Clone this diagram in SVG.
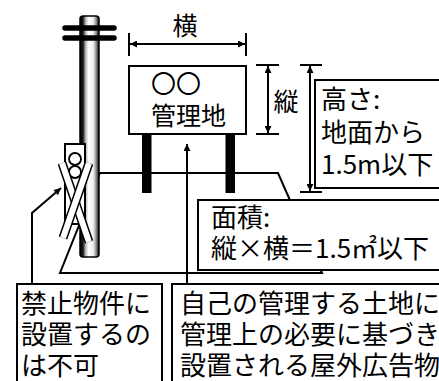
<svg xmlns="http://www.w3.org/2000/svg" width="439" height="381" viewBox="0 0 439 381">
  <style>
    .ln { fill: none; stroke: #000; stroke-width: 2; }
    .box { fill: #fff; stroke: #000; stroke-width: 2; }
    .txt { font-family: "Noto Sans CJK JP", "Noto Sans CJK SC", sans-serif; font-size: 26px; fill: #000; }
    .lbl { font-family: "Noto Sans CJK JP", "Noto Sans CJK SC", sans-serif; font-size: 25px; fill: #000; }
  </style>
  <defs>
    <linearGradient id="poleGrad" x1="0" y1="0" x2="1" y2="0">
      <stop offset="0" stop-color="#000"/>
      <stop offset="0.16" stop-color="#1a1a1a"/>
      <stop offset="0.3" stop-color="#bbb"/>
      <stop offset="0.45" stop-color="#fff"/>
      <stop offset="0.7" stop-color="#eee"/>
      <stop offset="0.86" stop-color="#888"/>
      <stop offset="1" stop-color="#000"/>
    </linearGradient>
    <marker id="arr" viewBox="0 0 10 10" refX="10" refY="5" markerWidth="9" markerHeight="7" markerUnits="userSpaceOnUse" orient="auto-start-reverse">
      <path d="M0,0 L10,5 L0,10 z" fill="#000"/>
    </marker>
  </defs>

  <rect width="439" height="381" fill="#fff"/>

  <!-- ground plot (parallelogram) -->
  <g id="ground">
    <path class="ln" d="M100,173 L278,173 L322,273 L60,273 Z"/>
  </g>

  <!-- utility pole with crossbars -->
  <g id="pole">
    <rect x="80" y="16" width="19" height="241" rx="3" fill="url(#poleGrad)" stroke="#000" stroke-width="1.5"/>
    <line x1="65" y1="28" x2="114" y2="28" stroke="#000" stroke-width="5.5" stroke-linecap="round"/>
    <line x1="65" y1="38" x2="114" y2="38" stroke="#000" stroke-width="5.5" stroke-linecap="round"/>
  </g>

  <!-- traffic signal crossed out -->
  <g id="signal">
    <rect x="65" y="144" width="20" height="80" fill="#fff" stroke="#000" stroke-width="2"/>
    <circle cx="75" cy="159" r="6" fill="#fff" stroke="#000" stroke-width="1.8"/>
    <circle cx="75" cy="172" r="6" fill="#fff" stroke="#000" stroke-width="1.8"/>
    <line x1="62" y1="163" x2="89" y2="242" stroke="#000" stroke-width="9"/>
    <line x1="62" y1="163" x2="89" y2="242" stroke="#fff" stroke-width="6"/>
    <line x1="89" y1="163" x2="63" y2="238" stroke="#000" stroke-width="9"/>
    <line x1="89" y1="163" x2="63" y2="238" stroke="#fff" stroke-width="6"/>
  </g>

  <!-- signboard on two legs -->
  <g id="signboard">
    <rect x="142" y="133" width="9.5" height="60" fill="#000"/>
    <rect x="225.5" y="133" width="9.5" height="60" fill="#000"/>
    <rect class="box" x="129" y="66" width="117" height="68"/>
    <text class="lbl" x="151" y="93">〇〇</text>
    <text class="lbl" x="151" y="125">管理地</text>
  </g>

  <!-- width dimension -->
  <g id="dim-width">
    <line class="ln" x1="129" y1="33" x2="129" y2="56"/>
    <line class="ln" x1="246" y1="33" x2="246" y2="56"/>
    <line class="ln" x1="130" y1="44" x2="245" y2="44" marker-start="url(#arr)" marker-end="url(#arr)"/>
    <text class="lbl" x="185" y="35" text-anchor="middle">横</text>
  </g>

  <!-- vertical dimension of board -->
  <g id="dim-vertical">
    <line class="ln" x1="256" y1="65" x2="279" y2="65"/>
    <line class="ln" x1="256" y1="134" x2="279" y2="134"/>
    <line class="ln" x1="268" y1="66" x2="268" y2="133" marker-start="url(#arr)" marker-end="url(#arr)"/>
    <text class="lbl" x="286" y="111" text-anchor="middle">縦</text>
  </g>

  <!-- height dimension -->
  <g id="dim-height">
    <line class="ln" x1="300" y1="65" x2="322" y2="65"/>
    <line class="ln" x1="300" y1="192" x2="322" y2="192"/>
    <line class="ln" x1="310" y1="66" x2="310" y2="191" marker-start="url(#arr)" marker-end="url(#arr)"/>
  </g>

  <!-- height note -->
  <g id="note-height">
    <rect class="box" x="315" y="80" width="140" height="108"/>
    <text class="txt" x="321" y="109">高さ:</text>
    <text class="txt" x="321" y="142">地面から</text>
    <text class="txt" x="321" y="174">1.5m以下</text>
  </g>

  <!-- area note -->
  <g id="note-area">
    <rect class="box" x="198" y="200" width="260" height="70"/>
    <text class="txt" x="211" y="227">面積:</text>
    <text class="txt" x="211" y="258">縦×横＝1.5㎡以下</text>
  </g>

  <!-- bottom notes -->
  <g id="note-prohibited">
    <rect class="box" x="17" y="284" width="145" height="110"/>
    <text class="txt" x="21" y="313">禁止物件に</text>
    <text class="txt" x="21" y="344">設置するの</text>
    <text class="txt" x="21" y="375">は不可</text>
  </g>
  <g id="note-own-land">
    <rect class="box" x="172" y="284" width="290" height="110"/>
    <text class="txt" x="180" y="313">自己の管理する土地に</text>
    <text class="txt" x="180" y="344">管理上の必要に基づき</text>
    <text class="txt" x="180" y="375">設置される屋外広告物</text>
  </g>

  <!-- connectors -->
  <g id="connectors">
    <polyline class="ln" points="32,284 32,213 61,188" marker-end="url(#arr)"/>
    <line class="ln" x1="187" y1="284" x2="187" y2="144" marker-end="url(#arr)"/>
  </g>
</svg>
